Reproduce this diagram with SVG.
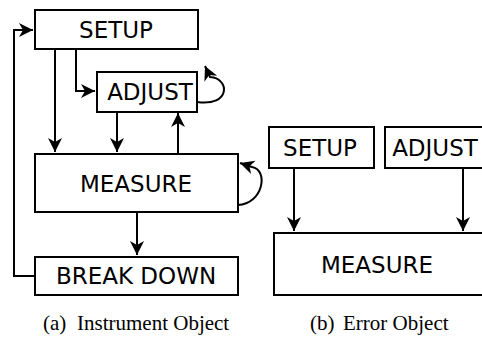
<svg xmlns="http://www.w3.org/2000/svg" width="482" height="338" viewBox="0 0 482 338">
<style>
.box{fill:#fff;stroke:#000;stroke-width:2}
.lbl{font-family:"DejaVu Sans",sans-serif;font-size:23px;fill:#000;text-anchor:middle}
.cap{font-family:"Liberation Serif",serif;font-size:21px;fill:#000}
.con{fill:none;stroke:#000;stroke-width:2}
</style>
<defs>
<marker id="ah" viewBox="-15 -8 16 16" refX="0" refY="0" markerWidth="16" markerHeight="16" markerUnits="userSpaceOnUse" orient="auto">
<path d="M0,0 L-14,-7 L-10,0 L-14,7 Z" fill="#000"/>
</marker>
</defs>
<rect width="482" height="338" fill="#fff"/>
<g id="connectors">
<polyline class="con" points="35,276 14,276 14,30 33,30" marker-end="url(#ah)"/>
<line class="con" x1="55" y1="49" x2="55" y2="152" marker-end="url(#ah)"/>
<polyline class="con" points="76,49 76,91 95,91" marker-end="url(#ah)"/>
<line class="con" x1="117" y1="112" x2="117" y2="152" marker-end="url(#ah)"/>
<line class="con" x1="178" y1="153" x2="178" y2="113" marker-end="url(#ah)"/>
<path class="con" d="M197,102 C231,107 230,78 210,77 L205,66" marker-end="url(#ah)"/>
<path class="con" d="M238,205 C263,204 269,170 252,167 L240,163" marker-end="url(#ah)"/>
<line class="con" x1="137" y1="213" x2="137" y2="255" marker-end="url(#ah)"/>
<line class="con" x1="294" y1="169" x2="294" y2="231" marker-end="url(#ah)"/>
<line class="con" x1="463" y1="169" x2="463" y2="231" marker-end="url(#ah)"/>
</g>
<g id="a-setup"><rect class="box" x="35" y="10" width="163" height="39"/><text class="lbl" x="116" y="38">SETUP</text></g>
<g id="a-adjust"><rect class="box" x="97" y="72" width="100" height="40"/><text class="lbl" x="150" y="100">ADJUST</text></g>
<g id="a-measure"><rect class="box" x="35" y="154" width="203" height="58"/><text class="lbl" x="136" y="192">MEASURE</text></g>
<g id="a-breakdown"><rect class="box" x="35" y="257" width="203" height="38"/><text class="lbl" x="136" y="284">BREAK DOWN</text></g>
<g id="b-setup"><rect class="box" x="269" y="127" width="105" height="41"/><text class="lbl" x="320" y="156">SETUP</text></g>
<g id="b-adjust"><rect class="box" x="385" y="127" width="110" height="41"/><text class="lbl" x="435" y="156">ADJUST</text></g>
<g id="b-measure"><rect class="box" x="274" y="233" width="220" height="62"/><text class="lbl" x="377" y="273">MEASURE</text></g>
<g id="captions">
<text class="cap" x="43" y="330">(a)</text><text class="cap" x="77" y="330">Instrument Object</text>
<text class="cap" x="310" y="330">(b)</text><text class="cap" x="343" y="330">Error Object</text>
</g>
</svg>
